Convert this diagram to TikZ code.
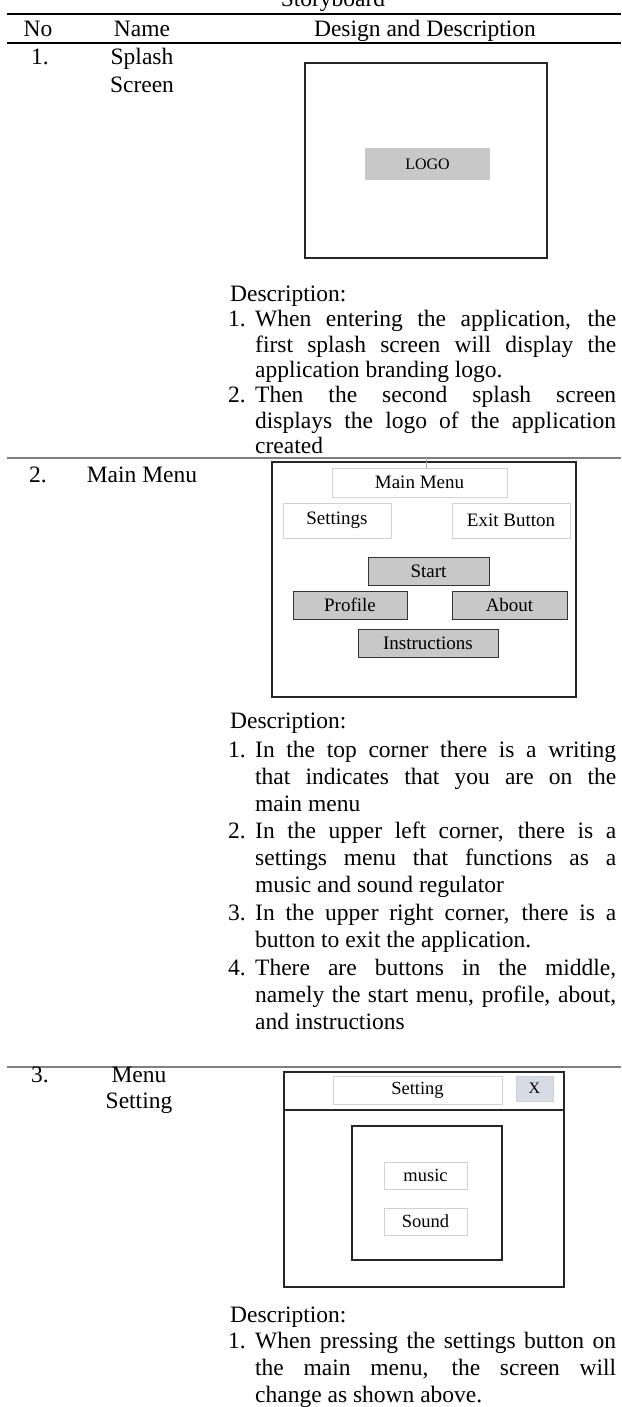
\documentclass[tikz,border=0pt]{standalone}
\usepackage{fontspec}
\setmainfont{Liberation Serif}
\definecolor{btngray}{HTML}{C8C8C8}
\definecolor{xblue}{HTML}{D6DCE5}
\definecolor{rulegray}{HTML}{7F7F7F}
\newcommand{\bodyfont}{\fontsize{23.5}{27}\selectfont}
\newcommand{\tightfont}{\fontsize{23.5}{25.5}\selectfont}
\newcommand{\mockfont}{\fontsize{19}{22}\selectfont}

\begin{document}
\begin{tikzpicture}[x=1pt,y=-1pt,inner sep=0pt]
  \tikzstyle{txt}=[font=\bodyfont,anchor=base]
  \tikzstyle{para}=[font=\bodyfont,anchor=north west,text width=361pt,align=justify]
  \tikzstyle{screen}=[draw=black!85,line width=1.4pt]
  \tikzstyle{lbl}=[draw=black!18,line width=0.9pt,font=\mockfont]
  \tikzstyle{btn}=[draw=black!80,fill=btngray,line width=1pt,font=\mockfont]
  \def\xd{230}	% left of description column
  \def\xn{228}	% item numbers
  \def\xt{255}	% hanging indent of items
  \def\up{18.9}	% strut height, baseline -> top of paragraph
  \def\upt{17.85}	% same, for the tighter first row
  \useasboundingbox (0,0) rectangle (621,1407);

  % table head
  \node[txt] (title) at (333,7) {Storyboard};
  \draw[line width=1.7pt] (7,14) -- (621,14);
  \node[txt] (hno) at (38,37) {No};
  \node[txt] (hname) at (142,37) {Name};
  \node[txt] (hdesign) at (425,37) {Design and Description};
  \draw[line width=1.5pt] (7,43) -- (621,43);

  % row 1: splash screen
  \node[txt] (no1) at (40,65) {1.};
  \node[txt] (name1a) at (142,65) {Splash};
  \node[txt] (name1b) at (142,93) {Screen};
  \node[screen,minimum width=242pt,minimum height=195pt] (splash) at (426,160.5) {};
  \node[fill=btngray,minimum width=125pt,minimum height=32pt,font=\fontsize{16}{19}\selectfont] (logo) at (427.5,164) {LOGO};
  \node[txt,anchor=base west] (desc1) at (\xd,301) {Description:};
  \node[txt,anchor=base west] (n11) at (\xn,326.5) {1.};
  \node[para,font=\tightfont] (d11) at (\xt,326.5-\upt) {\strut When entering the application, the\linebreak first splash screen will display the\linebreak application branding logo.};
  \node[txt,anchor=base west] (n12) at (\xn,402.5) {2.};
  \node[para,font=\tightfont] (d12) at (\xt,402.5-\upt) {\strut Then the second splash screen\linebreak displays the logo of the application\linebreak created};
  \draw[rulegray,line width=1.3pt] (7,458) -- (621,458);

  % row 2: main menu
  \node[txt] (no2) at (38,482) {2.};
  \node[txt] (name2) at (142,482) {Main Menu};
  \node[screen,minimum width=304pt,minimum height=235pt] (mm) at (424,579.5) {};
  \node[lbl,minimum width=175pt,minimum height=29pt] (mmlbl) at (419.5,482.5) {Main Menu};
  \coordinate (tick) at (426,458);
  \draw[black!35,line width=0.8pt] (tick) -- (tick |- mmlbl.north);
  \node[lbl,minimum width=108pt,minimum height=35pt] (settings) at (337,520.5) {Settings};
  \node[lbl,minimum width=118pt,minimum height=35pt] (exit) at (511,520.5) {Exit Button};
  \node[btn,minimum width=121pt,minimum height=28pt] (start) at (428.5,571) {Start};
  \node[btn,minimum width=114pt,minimum height=28pt] (profile) at (350,605) {Profile};
  \node[btn,minimum width=115pt,minimum height=28pt] (about) at (509.5,605) {About};
  \node[btn,minimum width=140pt,minimum height=28pt] (instr) at (428,643) {Instructions};
  \node[txt,anchor=base west] (desc2) at (\xd,728) {Description:};
  \node[txt,anchor=base west] (n21) at (\xn,757) {1.};
  \node[para] (d21) at (\xt,757-\up) {\strut In the top corner there is a writing\linebreak that indicates that you are on the\linebreak main menu};
  \node[txt,anchor=base west] (n22) at (\xn,838) {2.};
  \node[para] (d22) at (\xt,838-\up) {\strut In the upper left corner, there is a\linebreak settings menu that functions as a\linebreak music and sound regulator};
  \node[txt,anchor=base west] (n23) at (\xn,920) {3.};
  \node[para] (d23) at (\xt,920-\up) {\strut In the upper right corner, there is a\linebreak button to exit the application.};
  \node[txt,anchor=base west] (n24) at (\xn,975) {4.};
  \node[para] (d24) at (\xt,975-\up) {\strut There are buttons in the middle,\linebreak namely the start menu, profile, about,\linebreak and instructions};
  \draw[rulegray,line width=1.3pt] (7,1067) -- (621,1067);

  % row 3: menu setting
  \node[txt] (no3) at (40,1082) {3.};
  \node[txt] (name3a) at (139,1082) {Menu};
  \node[txt] (name3b) at (139,1108) {Setting};
  \node[screen,minimum width=280pt,minimum height=215pt] (setscr) at (424,1179.5) {};
  \draw[black!85,line width=1.2pt] (setscr.west |- 0,1110) -- (setscr.east |- 0,1110);
  \node[lbl,minimum width=169pt,minimum height=28pt,font=\fontsize{18.5}{22}\selectfont] (setlbl) at (417.5,1090) {Setting};
  \node[lbl,fill=xblue,minimum width=37pt,minimum height=25pt,font=\fontsize{16}{19}\selectfont] (xbtn) at (534.5,1088.5) {X};
  \node[screen,line width=1.2pt,minimum width=150pt,minimum height=134pt] (inner) at (427,1193) {};
  \node[lbl,minimum width=83pt,minimum height=27pt,font=\fontsize{18.5}{22}\selectfont] (music) at (425.5,1175.5) {music};
  \node[lbl,minimum width=83pt,minimum height=27pt,font=\fontsize{18.5}{22}\selectfont] (sound) at (425.5,1221.5) {Sound};
  \node[txt,anchor=base west] (desc3) at (\xd,1322) {Description:};
  \node[txt,anchor=base west] (n31) at (\xn,1348) {1.};
  \node[para] (d31) at (\xt,1348-\up) {\strut When pressing the settings button on\linebreak the main menu, the screen will\linebreak change as shown above.};
\end{tikzpicture}
\end{document}
